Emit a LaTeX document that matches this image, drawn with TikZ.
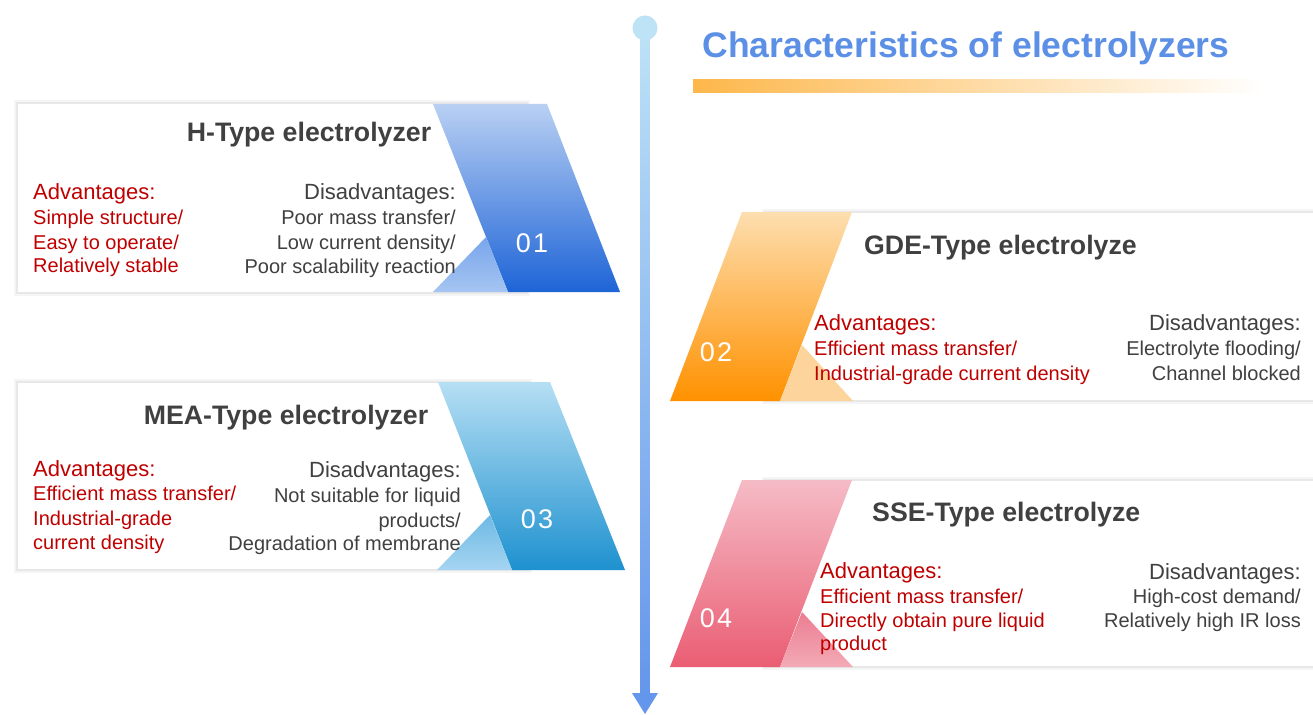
\documentclass[tikz,border=0pt]{standalone}
\usepackage{fontspec}
\setmainfont{Liberation Sans}
\definecolor{titleblue}{RGB}{92,143,230}
\definecolor{txtgray}{RGB}{64,64,64}
\definecolor{advred}{RGB}{192,0,0}
\definecolor{barorange}{RGB}{253,183,75}
\definecolor{lineTop}{RGB}{190,226,246}
\definecolor{lineBot}{RGB}{100,150,235}
\definecolor{bAtop}{RGB}{185,208,243}
\definecolor{bAbot}{RGB}{30,100,215}
\definecolor{bAtriT}{RGB}{120,165,235}
\definecolor{bAtriB}{RGB}{165,197,242}
\definecolor{bBtop}{RGB}{182,223,244}
\definecolor{bBbot}{RGB}{30,145,207}
\definecolor{bBtriT}{RGB}{110,185,228}
\definecolor{bBtriB}{RGB}{165,213,241}
\definecolor{oTop}{RGB}{253,222,175}
\definecolor{oBot}{RGB}{255,145,0}
\definecolor{oTri}{RGB}{253,212,155}
\definecolor{pTop}{RGB}{245,188,198}
\definecolor{pBot}{RGB}{234,93,115}
\definecolor{pTriT}{RGB}{235,125,145}
\definecolor{pTriB}{RGB}{243,170,182}
\begin{document}
\begin{tikzpicture}[x=1pt,y=-1pt,
  cardtitle/.style={font=\bfseries\fontsize{26.7}{31}\selectfont, text=txtgray, inner sep=0pt},
  advhead/.style={font=\fontsize{22}{26}\selectfont, text=advred, inner sep=0pt},
  advline/.style={font=\fontsize{20}{24}\selectfont, text=advred, inner sep=0pt},
  dishead/.style={font=\fontsize{22}{26}\selectfont, text=txtgray, inner sep=0pt},
  disline/.style={font=\fontsize{20}{24}\selectfont, text=txtgray, inner sep=0pt},
  numtext/.style={font=\fontsize{27}{30}\selectfont, text=white, inner sep=0pt},
  shadowA/.style={fill=black!4},
  shadowB/.style={fill=black!9},
  cardbox/.style={fill=white}
]
\useasboundingbox (0,0) rectangle (1313,714);
\fill[white] (0,0) rectangle (1313,714);

% ---------- timeline ----------
\coordinate (tltop) at (645,28);
\coordinate (tlbot) at (645,714);
\shade[top color=lineTop, bottom color=lineBot] (640.5,28) rectangle (649.5,694);
\fill[lineTop] (tltop) circle[radius=12.5];
\fill[lineBot] (632,693) -- (658,693) -- (tlbot) -- cycle;

% ---------- title ----------
\node[anchor=base, font=\bfseries\fontsize{35.5}{40}\selectfont, text=titleblue, inner sep=0pt] (title) at (966,58) {Characteristics of electrolyzers};
\shade[left color=barorange, right color=white] (693,80) rectangle (1264,93);

% ---------- card 01 ----------
\fill[shadowA] (14,100) rectangle (530,296);
\fill[shadowB] (16,102) rectangle (528,294);
\fill[cardbox] (18,104) rectangle (527,292);
\shade[top color=bAtop, bottom color=bAbot] (433,104) -- (547,104) -- (620,292) -- (508,292) -- cycle;
\shade[top color=bAtriT, bottom color=bAtriB] (433,292) -- (486,237) -- (508,292) -- cycle;
\node[numtext] (n1) at (532,243) {0\kern2pt1};
\node[cardtitle, anchor=base] (t1) at (309,142) {H-Type electrolyzer};
\node[advhead, anchor=base west] (a1h) at (33,200) {Advantages:};
\node[advline, anchor=base west] (a1a) at (33,224) {Simple structure/};
\node[advline, anchor=base west] (a1b) at (33,249) {Easy to operate/};
\node[advline, anchor=base west] (a1c) at (33,272) {Relatively stable};
\node[dishead, anchor=base east] (d1h) at (456,200) {Disadvantages:};
\node[disline, anchor=base east] (d1a) at (456,224) {Poor mass transfer/};
\node[disline, anchor=base east] (d1b) at (456,249) {Low current density/};
\node[disline, anchor=base east] (d1c) at (456,273) {Poor scalability reaction};

% ---------- card 03 ----------
\fill[shadowA] (14,379) rectangle (532,573);
\fill[shadowB] (16,381) rectangle (530,571);
\fill[cardbox] (18,383) rectangle (529,569);
\shade[top color=bBtop, bottom color=bBbot] (438,382) -- (550,382) -- (625,570) -- (512,570) -- cycle;
\shade[top color=bBtriT, bottom color=bBtriB] (437,570) -- (490,515) -- (512,570) -- cycle;
\node[numtext] (n3) at (537,519) {0\kern2pt3};
\node[cardtitle, anchor=base] (t3) at (286,424) {MEA-Type electrolyzer};
\node[advhead, anchor=base west] (a3h) at (33,476) {Advantages:};
\node[advline, anchor=base west] (a3a) at (33,500) {Efficient mass transfer/};
\node[advline, anchor=base west] (a3b) at (33,525) {Industrial-grade};
\node[advline, anchor=base west] (a3c) at (33,549) {current density};
\node[dishead, anchor=base east] (d3h) at (461,477) {Disadvantages:};
\node[disline, anchor=base east] (d3a) at (461,502) {Not suitable for liquid};
\node[disline, anchor=base east] (d3b) at (461,527) {products/};
\node[disline, anchor=base east] (d3c) at (461,550) {Degradation of membrane};

% ---------- card 02 ----------
\fill[shadowA] (762,209) rectangle (1313,404);
\fill[shadowB] (764,211) rectangle (1313,402);
\fill[cardbox] (766,213) rectangle (1313,400);
\shade[top color=oTop, bottom color=oBot] (742,212) -- (852,212) -- (780,401) -- (670,401) -- cycle;
\fill[oTri] (780,401) -- (802,345) -- (853,401) -- cycle;
\node[numtext] (n2) at (716,352) {0\kern2pt2};
\node[cardtitle, anchor=base west] (t2) at (864,254) {GDE-Type electrolyze};
\node[advhead, anchor=base west] (a2h) at (814,330) {Advantages:};
\node[advline, anchor=base west] (a2a) at (814,355) {Efficient mass transfer/};
\node[advline, anchor=base west] (a2b) at (814,380) {Industrial-grade current density};
\node[dishead, anchor=base east] (d2h) at (1301,330) {Disadvantages:};
\node[disline, anchor=base east] (d2a) at (1301,355) {Electrolyte flooding/};
\node[disline, anchor=base east] (d2b) at (1301,380) {Channel blocked};

% ---------- card 04 ----------
\fill[shadowA] (762,477) rectangle (1313,670);
\fill[shadowB] (764,479) rectangle (1313,668);
\fill[cardbox] (766,481) rectangle (1313,666);
\shade[top color=pTop, middle color=pBot, bottom color=pBot] (742,480) -- (852,480) -- (780,667) -- (670,667) -- cycle;
\shade[top color=pTriT, bottom color=pTriB] (780,667) -- (802,612) -- (853,667) -- cycle;
\node[numtext] (n4) at (716,618) {0\kern2pt4};
\node[cardtitle, anchor=base west] (t4) at (872,521) {SSE-Type electrolyze};
\node[advhead, anchor=base west] (a4h) at (820,578) {Advantages:};
\node[advline, anchor=base west] (a4a) at (820,603) {Efficient mass transfer/};
\node[advline, anchor=base west] (a4b) at (820,627) {Directly obtain pure liquid};
\node[advline, anchor=base west] (a4c) at (820,650) {product};
\node[dishead, anchor=base east] (d4h) at (1301,579) {Disadvantages:};
\node[disline, anchor=base east] (d4a) at (1301,603) {High-cost demand/};
\node[disline, anchor=base east] (d4b) at (1301,627) {Relatively high IR loss};
\end{tikzpicture}
\end{document}
